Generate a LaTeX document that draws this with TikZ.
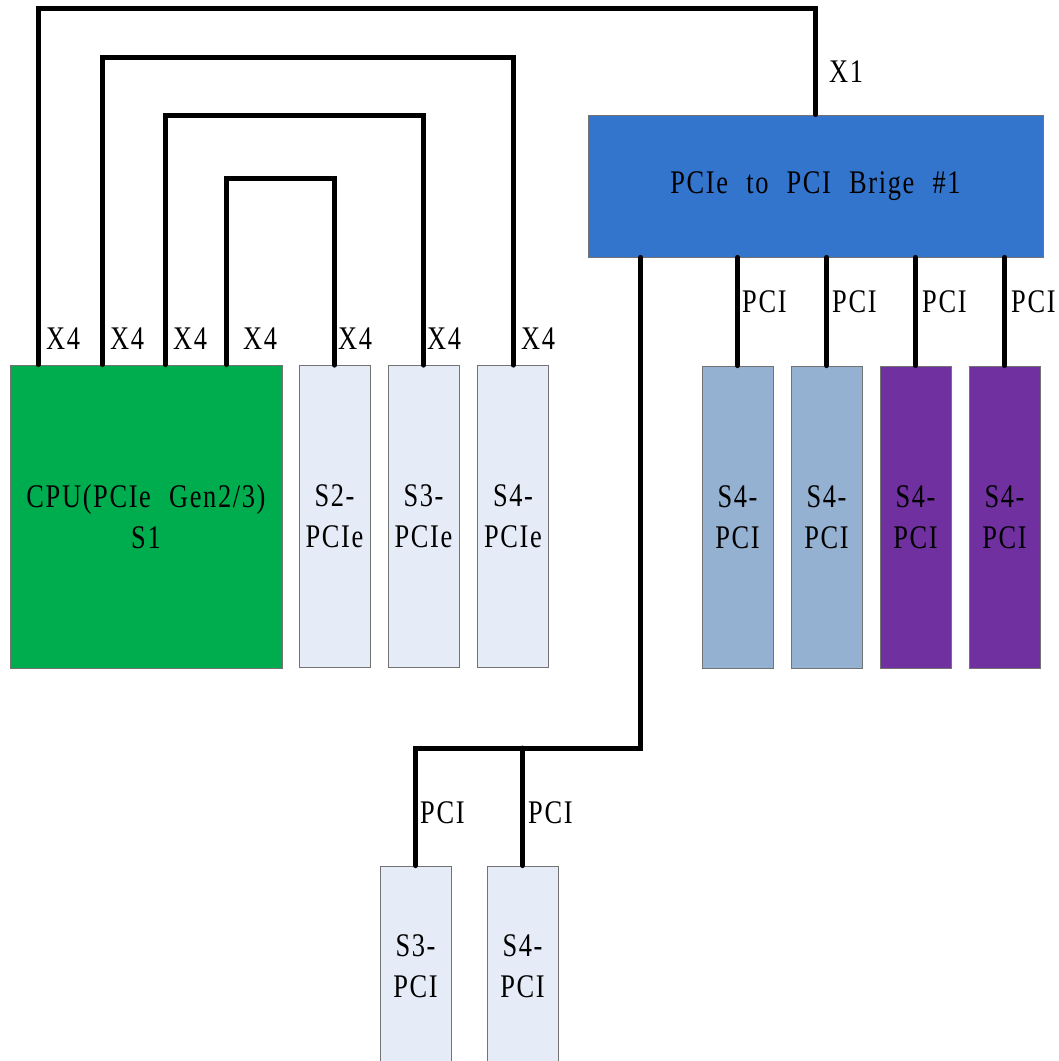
\documentclass[tikz,border=0pt]{standalone}
\usepackage{fontspec}
\setmainfont{Liberation Serif}[FakeStretch=0.8, LetterSpace=5, WordSpace={2.2}]
\usetikzlibrary{calc}

\definecolor{cpugreen}{RGB}{0,173,78}
\definecolor{slotfill}{RGB}{230,236,247}
\definecolor{steel}{RGB}{149,177,209}
\definecolor{slotpurple}{RGB}{112,48,160}
\definecolor{bridgeblue}{RGB}{51,117,205}
\definecolor{boxline}{RGB}{115,115,115}

\newcommand\boxfont{\fontsize{33}{41}\selectfont}

\tikzset{
  box/.style={draw=boxline, line width=0.8pt, inner sep=0pt, align=center, font=\boxfont},
  slot/.style={box, minimum width=71pt, minimum height=302pt},
  lowslot/.style={box, fill=slotfill, minimum width=71pt, minimum height=200pt},
  bus/.style={line width=5pt, line cap=round, line join=miter},
  lab/.style={anchor=west, inner sep=0pt, font=\boxfont}
}

\begin{document}
\begin{tikzpicture}[x=1pt,y=-1pt]
\useasboundingbox (0,0) rectangle (1059,1061);
\clip (0,0) rectangle (1059,1061);

% routing levels of the buses
\coordinate (lv1) at (0,8);
\coordinate (lv2) at (0,57);
\coordinate (lv3) at (0,115);
\coordinate (lv4) at (0,178);
\coordinate (lv5) at (0,748);

% CPU and PCIe slots
\node[box, fill=cpugreen, minimum width=272pt, minimum height=303pt] (cpu) at (146,516.5) {CPU(PCIe Gen2/3)\\S1};
\node[slot, fill=slotfill] (s2) at (334.5,516.5) {S2-\\PCIe};
\node[slot, fill=slotfill] (s3) at (423.5,516.5) {S3-\\PCIe};
\node[slot, fill=slotfill] (s4) at (513,516.5) {S4-\\PCIe};

% bridge and its PCI slots
\node[box, fill=bridgeblue, minimum width=455pt, minimum height=142pt] (br) at (815.5,186) {PCIe to PCI Brige \#1};
\node[slot, fill=steel] (r1) at (737.5,517) {S4-\\PCI};
\node[slot, fill=steel] (r2) at (826.5,517) {S4-\\PCI};
\node[slot, fill=slotpurple] (r3) at (915.5,517) {S4-\\PCI};
\node[slot, fill=slotpurple] (r4) at (1004.5,517) {S4-\\PCI};

\node[lowslot] (b1) at (415.5,966) {S3-\\PCI};
\node[lowslot] (b2) at (522.5,966) {S4-\\PCI};

% CPU lane ports
\coordinate (c1) at ($(cpu.north west)+(28.5,0)$);
\coordinate (c2) at ($(cpu.north west)+(92.5,0)$);
\coordinate (c3) at ($(cpu.north west)+(156,0)$);
\coordinate (c4) at ($(cpu.north west)+(217,0)$);
\coordinate (d0) at ($(br.south west)+(53,0)$);

% buses
\draw[bus] (c1) -- (c1 |- lv1) -| (br.north);
\draw[bus] (c2) -- (c2 |- lv2) -| (s4.north);
\draw[bus] (c3) -- (c3 |- lv3) -| (s3.north);
\draw[bus] (c4) -- (c4 |- lv4) -| (s2.north);
\draw[bus] (d0) -- (d0 |- lv5) -| (b1.north);
\draw[bus] (b2.north |- lv5) -- (b2.north);
\foreach \r in {r1,r2,r3,r4}
  \draw[bus] (br.south -| \r.north) -- (\r.north);

% bus labels
\node[lab] (x1)  at (829,72) {X1};
\node[lab] (la1) at (46,339) {X4};
\node[lab] (la2) at (110,339) {X4};
\node[lab] (la3) at (173,339) {X4};
\node[lab] (la4) at (243,339) {X4};
\node[lab] (la5) at (338,339) {X4};
\node[lab] (la6) at (427,339) {X4};
\node[lab] (la7) at (521,339) {X4};
\node[lab] (lp1) at (742,302) {PCI};
\node[lab] (lp2) at (832,302) {PCI};
\node[lab] (lp3) at (922,302) {PCI};
\node[lab] (lp4) at (1011,302) {PCI};
\node[lab] (lp5) at (420,813) {PCI};
\node[lab] (lp6) at (528,813) {PCI};
\end{tikzpicture}
\end{document}
